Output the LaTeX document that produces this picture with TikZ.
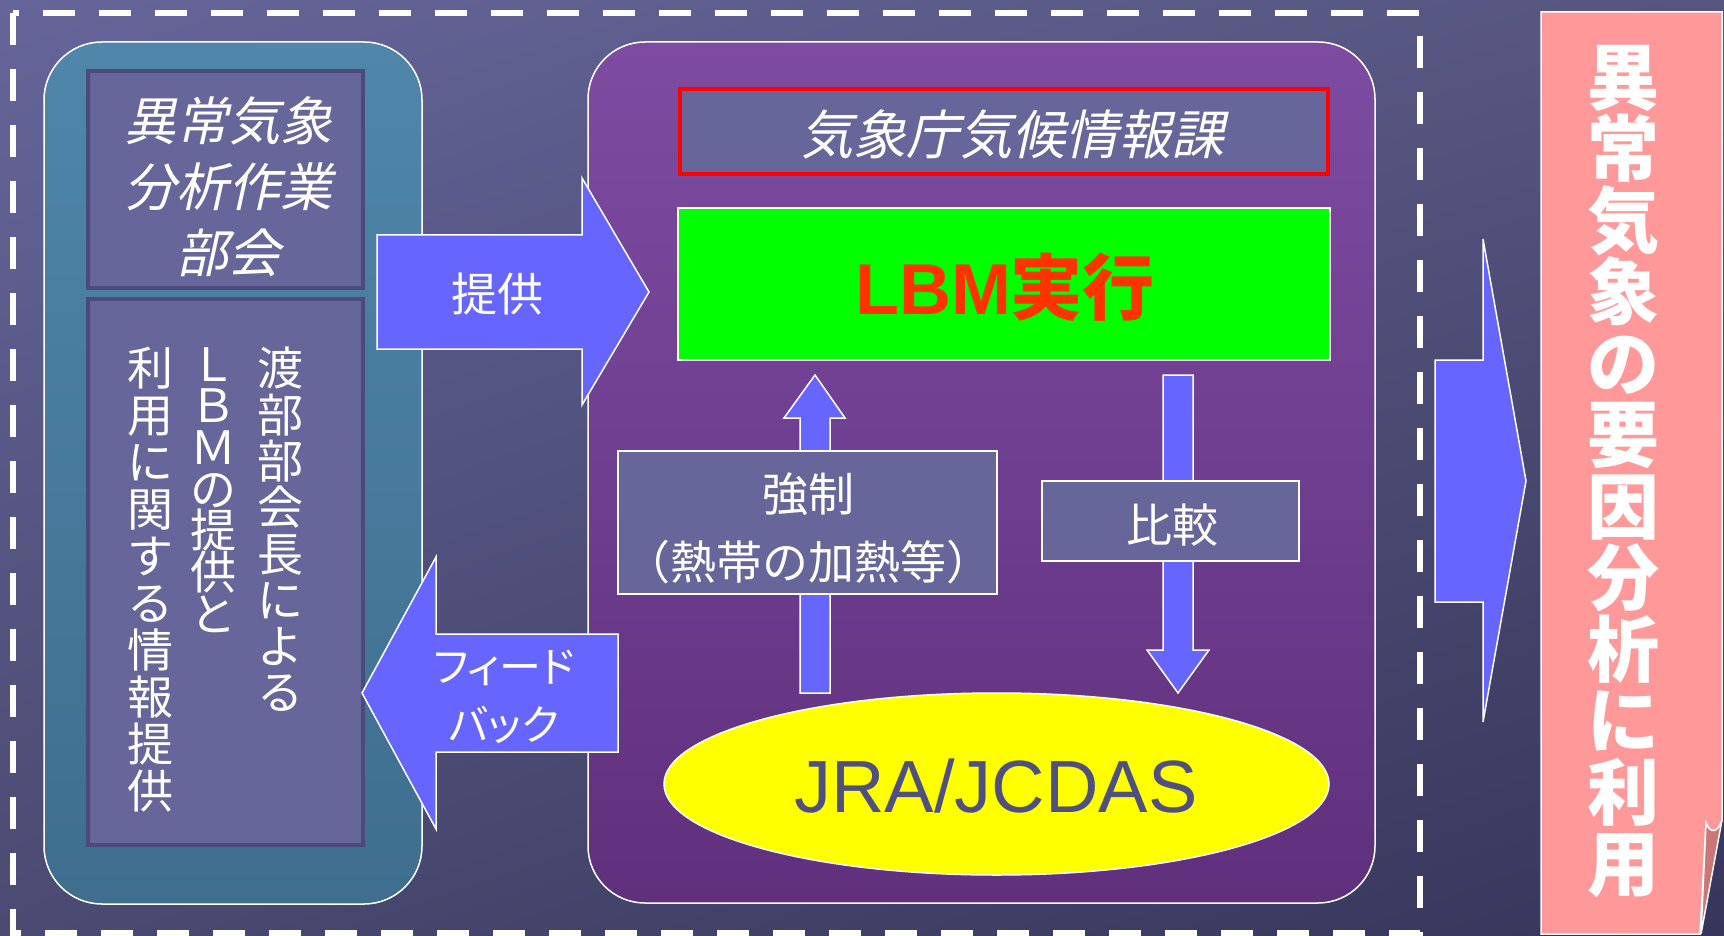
\documentclass[tikz,border=0pt]{standalone}
\usepackage{fontspec}
\setmainfont{Liberation Sans}
\newfontfamily\jp{Noto Sans CJK JP}
\newfontfamily\jpit[FakeSlant=0.22]{Noto Sans CJK JP}
\newfontfamily\jpp[RawFeature=+palt]{Noto Sans CJK JP}
\usetikzlibrary{shapes.geometric,shadings}
\definecolor{bgUL}{HTML}{65659A}
\definecolor{bgUR}{HTML}{55557F}
\definecolor{bgLL}{HTML}{4A4A72}
\definecolor{bgLR}{HTML}{36355A}
\definecolor{tealtop}{HTML}{4F86AA}
\definecolor{tealbot}{HTML}{3F6E8E}
\definecolor{purptop}{HTML}{7D4CA2}
\definecolor{purpbot}{HTML}{60307D}
\definecolor{slate}{HTML}{66669A}
\definecolor{edgedark}{HTML}{4A4A7C}
\definecolor{arrowblue}{HTML}{6666FF}
\definecolor{pinkbox}{HTML}{FF9999}
\definecolor{curlpink}{HTML}{CC7777}
\definecolor{lbmred}{HTML}{FF3300}
\definecolor{jratext}{HTML}{4F4F80}
\definecolor{lbmgreen}{HTML}{00FF00}
\definecolor{ellyellow}{HTML}{FFFF00}
\lineskiplimit=-100pt
\begin{document}
\begin{tikzpicture}[x=1pt,y=-1pt,
  blockarrow/.style={fill=arrowblue, draw=white, line width=1.5pt, line join=miter},
  slatebox/.style={fill=slate, draw=white, line width=1.5pt, inner sep=0pt},
  leftbox/.style={fill=slate, draw=edgedark, line width=4pt, inner sep=0pt},
  groupbox/.style={draw=white, line width=1.5pt, rounded corners=58pt, inner sep=0pt},
  wtext/.style={text=white, inner sep=0pt, align=center},
  vtext/.style={text=white, inner sep=0pt, align=center, anchor=north},
]
\useasboundingbox (0,0) rectangle (1724,936);
% background
\shade[upper left=bgUL, upper right=bgUR, lower left=bgLL, lower right=bgLR] (0,0) rectangle (1724,936);
% outer dashed frame
\draw[white, line width=6pt, dash pattern=on 32pt off 24pt] (13,13) rectangle (1420,933);

% group boxes
\node[groupbox, top color=tealtop, bottom color=tealbot, minimum width=378pt, minimum height=862pt] (teal) at (233,473) {};
\node[groupbox, top color=purptop, bottom color=purpbot, minimum width=787pt, minimum height=861pt, rounded corners=57pt] (purple) at (981.5,472.5) {};

% left inner boxes
\node[leftbox, minimum width=275pt, minimum height=217pt] (bukaibox) at (225.5,179.5) {};
\node[leftbox, minimum width=275pt, minimum height=546pt] (infobox) at (225.5,572) {};
\node[wtext, font=\jpit\fontsize{52}{66}\selectfont] (bukai) at (228,187) {異常気象\\分析作業\\部会};
\node[vtext, font=\jp\fontsize{46}{46.3}\selectfont] (col1) at (280,347) {渡\\部\\部\\会\\長\\に\\よ\\る};
\node[vtext, font=\jp\fontsize{46}{41.7}\selectfont] (col2) at (213,347) {Ｌ\\Ｂ\\Ｍ\\の\\提\\供\\と};
\node[vtext, font=\jp\fontsize{46}{47}\selectfont] (col3) at (150,347) {利\\用\\に\\関\\す\\る\\情\\報\\提\\供};

% JMA boxes
\node[fill=slate, draw=red, line width=4.5pt, minimum width=648pt, minimum height=85pt, inner sep=0pt] (jmabox) at (1004,131.5) {};
\node[wtext, font=\jpit\fontsize{53}{60}\selectfont] (jma) at (1012,134) {気象庁気候情報課};
\node[fill=lbmgreen, draw=white, line width=1.5pt, minimum width=652pt, minimum height=152pt, inner sep=0pt] (lbm) at (1004,284) {};
\node[inner sep=0pt, text=lbmred, font=\bfseries\fontsize{72}{80}\selectfont] (lbmtxt) at (1005,287) {LBM{\jp\bfseries 実行}};

% up / down arrows
\draw[blockarrow] (800,693) -- (800,418) -- (784,418) -- (815,375) -- (845,418) -- (830,418) -- (830,693) -- cycle;
\draw[blockarrow] (1163,375) -- (1193,375) -- (1193,650) -- (1209,650) -- (1178,693) -- (1147,650) -- (1163,650) -- cycle;

\node[slatebox, minimum width=379pt, minimum height=143pt] (kyoseibox) at (807.5,522.5) {};
\node[wtext, font=\jp\fontsize{46}{68}\selectfont] (kyosei) at (808,528) {強制\\（熱帯の加熱等）};
\node[slatebox, minimum width=257pt, minimum height=80pt] (hikakubox) at (1170.5,521) {};
\node[wtext, font=\jp\fontsize{46}{50}\selectfont] (hikaku) at (1172,525) {比較};

% ellipse
\node[ellipse, fill=ellyellow, draw=white, line width=1.5pt, minimum width=665pt, minimum height=182pt, inner sep=0pt] (jra) at (996.5,784) {};
\node[inner sep=0pt, text=jratext, font=\fontsize{74}{80}\selectfont] (jratxt) at (996,786) {JRA/JCDAS};

% provide / feedback arrows
\draw[blockarrow] (377,235) -- (582,235) -- (582,178) -- (649,292) -- (582,405) -- (582,349) -- (377,349) -- cycle;
\node[wtext, font=\jp\fontsize{46}{50}\selectfont] (teikyo) at (497,294) {提供};
\draw[blockarrow] (618,634) -- (436,634) -- (436,557) -- (362,693) -- (436,829) -- (436,752) -- (618,752) -- cycle;
\node[wtext, font=\jpp\fontsize{42}{58}\selectfont] (fb) at (504,697) {フィード\\バック};

% big right arrow
\draw[blockarrow] (1435,360) -- (1483,360) -- (1483,239) -- (1526,481) -- (1483,722) -- (1483,602) -- (1435,602) -- cycle;

% pink result box with curled corner
\draw[fill=pinkbox, draw=white, line width=1.5pt] (1541,12) -- (1722,12) -- (1722,820) .. controls (1718,833) and (1710,834) .. (1706,823) -- (1700,934) -- (1541,934) -- cycle;
\draw[fill=curlpink, draw=white, line width=1.5pt] (1706,823) .. controls (1710,834) and (1718,833) .. (1722,820) -- (1701,934) -- cycle;
\node[vtext, font=\jp\bfseries\fontsize{72}{71.5}\selectfont] (usage) at (1623,45) {異\\常\\気\\象\\の\\要\\因\\分\\析\\に\\利\\用};
\end{tikzpicture}
\end{document}
